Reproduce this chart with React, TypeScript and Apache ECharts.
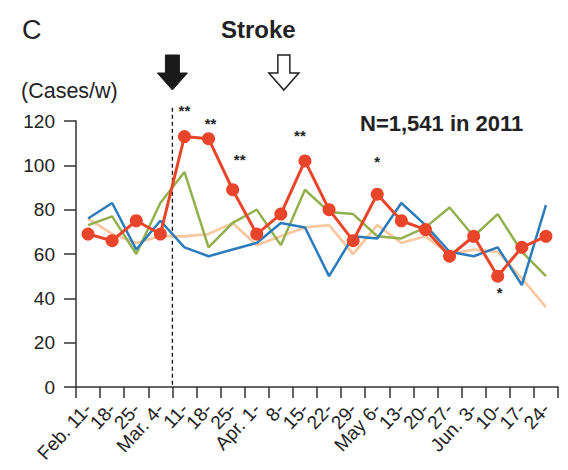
import React, { useEffect, useRef } from "react";
import * as echarts from "echarts";

const categories = [
  "Feb. 11-", "18-", "25-", "Mar. 4-", "11-", "18-", "25-", "Apr. 1-", "8-", "15-",
  "22-", "29-", "May 6-", "13-", "20-", "27-", "Jun. 3-", "10-", "17-", "24-",
];
const redSeries = [69, 66, 75, 69, 113, 112, 89, 69, 78, 102, 80, 66, 87, 75, 71, 59, 68, 50, 63, 68];
const blueSeries = [76, 83, 62, 75, 63, 59, 62, 65, 74, 72, 50, 68, 67, 83, 73, 61, 59, 63, 46, 82];
const greenSeries = [73, 77, 60, 83, 97, 63, 74, 80, 64, 89, 79, 78, 68, 67, 72, 81, 68, 78, 61, 50];
const peachSeries = [76, 69, 65, 68, 68, 69, 74, 64, 68, 72, 73, 60, 73, 65, 68, 60, 62, 61, 49, 36];
const starMarks = ["", "", "", "", "**", "**", "**", "", "", "**", "", "", "*", "", "", "", "", "*", "", ""];
const yMin = 0;
const yMax = 120;
const yStep = 20;

const FONT = "'Liberation Sans', Arial, Helvetica, sans-serif";

// label offsets (style only) for the significance marks, keyed by index
const starOffsets: Record<number, [number, number]> = {
  4: [0, -26],
  5: [2, -15],
  6: [7, -30],
  9: [-5, -25],
  12: [0, -33],
  17: [2, 16],
};

export default function App() {
  const ref = useRef<HTMLDivElement>(null);
  useEffect(() => {
    if (!ref.current) return;
    const chart = echarts.init(ref.current, undefined, { renderer: "svg" });
    const redData = redSeries.map((v, i) =>
      starMarks[i]
        ? {
            value: v,
            label: {
              show: true,
              position: "inside",
              formatter: starMarks[i],
              offset: starOffsets[i] || [0, -20],
              color: "#222",
              fontSize: 15,
              fontWeight: "bold",
              fontFamily: FONT,
            },
          }
        : v
    );
    const option: any = {
      animation: false,
      backgroundColor: "#fff",
      grid: { left: 76, right: 10, top: 121, bottom: 83, containLabel: false },
      xAxis: {
        type: "category",
        data: categories,
        boundaryGap: true,
        axisLine: { lineStyle: { color: "#333", width: 1.5 } },
        axisTick: { show: true, length: 11, inside: false, lineStyle: { color: "#333", width: 1.5 } },
        axisLabel: {
          interval: 0,
          rotate: 47,
          margin: 19,
          color: "#222",
          fontSize: 19,
          fontFamily: FONT,
        },
        splitLine: { show: false },
      },
      yAxis: {
        type: "value",
        min: yMin,
        max: yMax,
        interval: yStep,
        axisLine: { show: true, lineStyle: { color: "#333", width: 1.5 } },
        axisTick: { show: true, length: 12, lineStyle: { color: "#333", width: 1.5 } },
        axisLabel: { margin: 21, color: "#222", fontSize: 19, fontFamily: FONT },
        splitLine: { show: false },
      },
      series: [
        {
          type: "line",
          data: peachSeries,
          symbol: "none",
          lineStyle: { color: "#f8c9a2", width: 2.8 },
          z: 2,
        },
        {
          type: "line",
          data: greenSeries,
          symbol: "none",
          lineStyle: { color: "#92b04c", width: 2.5 },
          z: 3,
        },
        {
          type: "line",
          data: blueSeries,
          symbol: "none",
          lineStyle: { color: "#2b7cbc", width: 2.5 },
          z: 4,
        },
        {
          type: "line",
          data: redData,
          symbol: "circle",
          symbolSize: 13,
          itemStyle: { color: "#e8452b" },
          lineStyle: { color: "#e8452b", width: 3 },
          z: 5,
        },
      ],
    };
    chart.setOption(option);

    const x3 = chart.convertToPixel({ xAxisIndex: 0 }, categories[3]) as number;
    const x4 = chart.convertToPixel({ xAxisIndex: 0 }, categories[4]) as number;
    const xBoundary = (x3 + x4) / 2;
    const xWhite = (chart.convertToPixel({ xAxisIndex: 0 }, categories[8]) as number) + 3;
    const y0 = chart.convertToPixel({ yAxisIndex: 0 }, 0) as number;
    const yTop = chart.convertToPixel({ yAxisIndex: 0 }, 126) as number;

    const arrow = (cx: number, shaft: number) => [
      [cx - shaft, 55],
      [cx + shaft, 55],
      [cx + shaft, 73],
      [cx + 15, 73],
      [cx, 90],
      [cx - 15, 73],
      [cx - shaft, 73],
    ];

    chart.setOption({
      graphic: [
        {
          type: "line",
          shape: { x1: xBoundary, y1: yTop, x2: xBoundary, y2: y0 },
          style: { stroke: "#111", lineWidth: 1.3, lineDash: [4, 3] },
          z: 1,
        },
        {
          type: "polygon",
          shape: { points: arrow(xBoundary, 7) },
          style: { fill: "#1a1a1a", stroke: "#1a1a1a", lineWidth: 1 },
        },
        {
          type: "polygon",
          shape: { points: arrow(xWhite, 6) },
          style: { fill: "#fff", stroke: "#222", lineWidth: 1.5 },
        },
        {
          type: "text",
          left: 22,
          top: 16,
          style: { text: "C", fontSize: 27, fontFamily: FONT, fill: "#222" },
        },
        {
          type: "text",
          left: 221,
          top: 17,
          style: { text: "Stroke", fontSize: 24, fontWeight: "bold", fontFamily: FONT, fill: "#222" },
        },
        {
          type: "text",
          left: 21,
          top: 80,
          style: { text: "(Cases/w)", fontSize: 21.5, fontFamily: FONT, fill: "#222" },
        },
        {
          type: "text",
          left: 360,
          top: 112,
          style: { text: "N=1,541 in 2011", fontSize: 22, fontWeight: "bold", fontFamily: FONT, fill: "#222" },
        },
      ],
    });
    return () => chart.dispose();
  }, []);
  return (
    <div
      ref={ref}
      style={{ position: "fixed", left: 0, top: 0, width: 568, height: 470, background: "#fff" }}
    />
  );
}
